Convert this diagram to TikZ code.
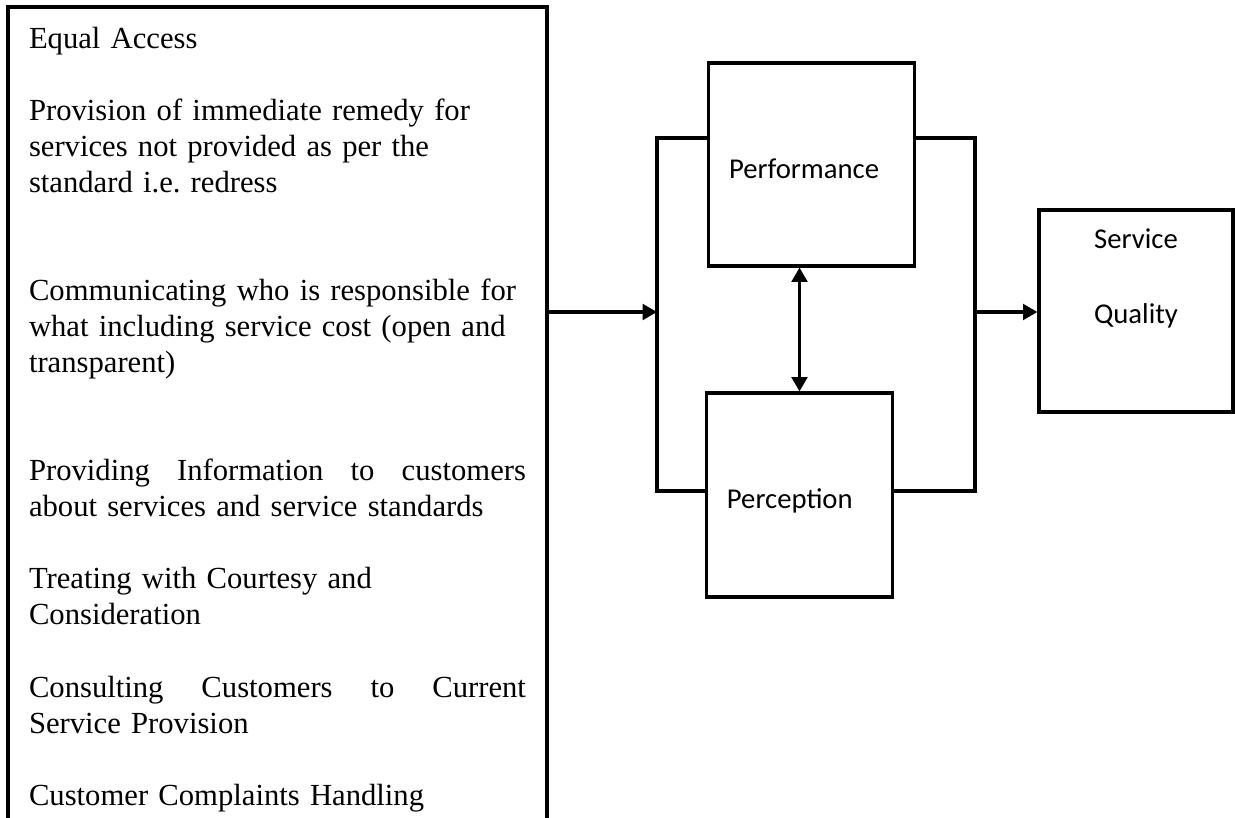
\documentclass[tikz,border=0pt]{standalone}
\usepackage{fontspec}
\setmainfont{Liberation Serif}
\newfontfamily\stagefont{Carlito}
\usetikzlibrary{%
  arrows.meta,%
  positioning%
}
\frenchspacing
\newlength{\factorwidth}
\setlength{\factorwidth}{190.5pt}
\newcommand{\fullline}[1]{\leavevmode\hbox to \factorwidth{#1}}

\begin{document}
\begin{tikzpicture}
[x=0.3833pt, y=-0.3833pt, line width=1.2pt, >={Triangle[length=5.5pt,width=6pt]},
factorbox/.style={rectangle, draw, line width=1.5pt, outer sep=0pt, anchor=north west, text width=\factorwidth, align=left, inner xsep=8.05pt, inner ysep=7.6pt, font=\fontsize{11.75}{13.82}\selectfont},
stagebox/.style={rectangle, draw, inner xsep=8pt, inner ysep=0pt, align=left, text height=10.4pt, text depth=0pt, font=\stagefont\fontsize{11}{13.4}\selectfont},
qualitybox/.style={rectangle, draw, inner xsep=7.2pt, inner ysep=7.3pt, font=\stagefont\fontsize{11}{13.4}\selectfont}]

\clip (0,0) rectangle (1235,818);

\node[factorbox] (factors) at (8,7) {Equal Access\\[13.82pt]
Provision of immediate remedy for\\
services not provided as per the\\
standard i.e. redress\\[27.64pt]
Communicating who is responsible for\\
what including service cost (open and\\
transparent)\\[27.64pt]
\fullline{Providing\hfil Information\hfil to\hfil customers}\\
about services and service standards\\[13.82pt]
Treating with Courtesy and\\
Consideration\\[13.82pt]
\fullline{Consulting\hfil Customers\hfil to\hfil Current}\\
Service Provision\\[13.82pt]
Customer Complaints Handling};

\node[stagebox, minimum height=77.8pt, text width=63.2pt] (perf) at (811.5,164.5) {Performance};
\node[stagebox, minimum height=78.2pt, text width=55.6pt] (perc) at (799.5,495) {Perception};
\node[qualitybox] (quality) at (1136,311) {\parbox[c][62.8pt][t]{60pt}{\centering Service\\[15.3pt] Quality}};

\coordinate (inlet) at (657,312);
\coordinate (outlet) at (975,312);
\coordinate (ltop) at (657,138);
\coordinate (lbot) at (657,491);
\coordinate (rtop) at (975,138);
\coordinate (rbot) at (975,491);

\draw[->] (factors.east |- inlet) -- (inlet);
\draw (perf.west |- ltop) -- (ltop) -- (lbot) -- (perc.west |- lbot);
\draw (perf.east |- rtop) -- (rtop) -- (rbot) -- (perc.east |- rbot);
\draw[->] (outlet) -- (quality.west |- outlet);
\draw[<->] (perf.south -| perc.north) -- (perc.north);
\end{tikzpicture}
\end{document}
